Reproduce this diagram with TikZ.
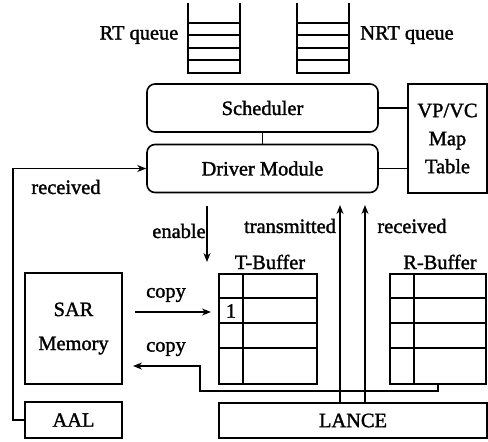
\documentclass[tikz,border=0pt]{standalone}
\usepackage{fontspec}
\setmainfont{Liberation Serif}[FakeBold=1.5]
\usetikzlibrary{arrows.meta,positioning,calc}
\tikzset{
  box/.style={draw, align=center, inner sep=0pt},
  module/.style={draw, rounded corners=4pt, align=center, inner sep=0pt, minimum width=115.5pt, minimum height=24pt},
  queue/.style={inner sep=0pt, minimum width=25pt, minimum height=34pt},
  buffer/.style={draw, inner sep=0pt, minimum width=49pt, minimum height=55pt},
  tag/.style={inner sep=1pt},
  arrow/.style={-{Stealth[length=4.5pt, width=3.5pt]}}
}

\begin{document}
\begin{tikzpicture}[x=0.5pt, y=-0.5pt, line width=0.8pt, font=\fontsize{10.2}{14}\selectfont]
  \useasboundingbox (0,0) rectangle (488,441);

  % queues
  \node[queue] (rtq) at (214,38) {};
  \node[queue] (nrtq) at (323,38) {};
  \foreach \q in {rtq,nrtq} {
    \draw (\q.north west) -- (\q.south west) -- (\q.south east) -- (\q.north east);
    \foreach \y in {23,35,48,60} \draw (\q.west |- 0,\y) -- (\q.east |- 0,\y);
  }
  \node[tag] (rtlbl) at (139,35) {RT queue};
  \node[tag] (nrtlbl) at (407,35) {NRT queue};

  \node[module] (sched) at (262.5,108) {Scheduler};
  \node[module] (driver) at (262.5,168.5) {Driver Module};
  \node[box, minimum width=39.5pt, minimum height=54.5pt] (vpvc) at (447.5,138.5) {VP/VC\\Map\\Table};

  \node[box, minimum width=48.5pt, minimum height=55.5pt] (sar) at (73.5,328.5) {SAR\\[3pt]Memory};
  \node[box, minimum width=48.5pt, minimum height=18pt] (aal) at (73.5,420) {AAL};
  \node[box, minimum width=134pt, minimum height=17.5pt] (lance) at (353,420.5) {LANCE};

  % buffers
  \node[buffer] (tbuf) at (268,329) {};
  \node[buffer, minimum width=48pt] (rbuf) at (438,329) {};
  \foreach \b/\dx in {tbuf/243, rbuf/414} {
    \draw (\b.north -| \dx,0) -- (\b.south -| \dx,0);
    \foreach \y in {298,323,348} \draw (\b.west |- 0,\y) -- (\b.east |- 0,\y);
  }
  \node[tag] (tbuflbl) at (270,262) {T-Buffer};
  \node[tag] (rbuflbl) at (440,262) {R-Buffer};
  \node[tag] (one) at (231,311) {1};

  \node[tag] (rxlbl) at (66,187) {received};
  \node[tag] (enlbl) at (179,231) {enable};
  \node[tag] (txlbl) at (290,226) {transmitted};
  \node[tag] (rx2lbl) at (412,226) {received};
  \node[tag] (cp1lbl) at (166,295) {copy};
  \node[tag] (cp2lbl) at (166,349) {copy};

  \coordinate (loopx) at (13,0);
  \coordinate (en1) at (207,206);
  \coordinate (en2) at (207,262);
  \coordinate (tx) at (340,205);
  \coordinate (rx) at (365,205);
  \coordinate (cp1a) at (135,312);
  \coordinate (cp1b) at (211,312);
  \coordinate (cp2turn) at (200,366);
  \coordinate (cp2end) at (133,366);

  \draw (sched.east) -- (sched.east -| vpvc.west);
  \draw (driver.east) -- (driver.east -| vpvc.west);
  \draw (sched.south) -- (driver.north);
  \draw[arrow] (aal.west) -- (aal.west -| loopx) |- (driver.west);
  \draw[arrow] (en1) -- (en2);
  \draw[arrow] (lance.north -| tx) -- (tx);
  \draw[arrow] (lance.north -| rx) -- (rx);
  \draw[arrow] (cp1a) -- (cp1b);
  \draw[arrow] (rbuf.south) -- ++(0,6) -| (cp2turn) -- (cp2end);
\end{tikzpicture}
\end{document}
